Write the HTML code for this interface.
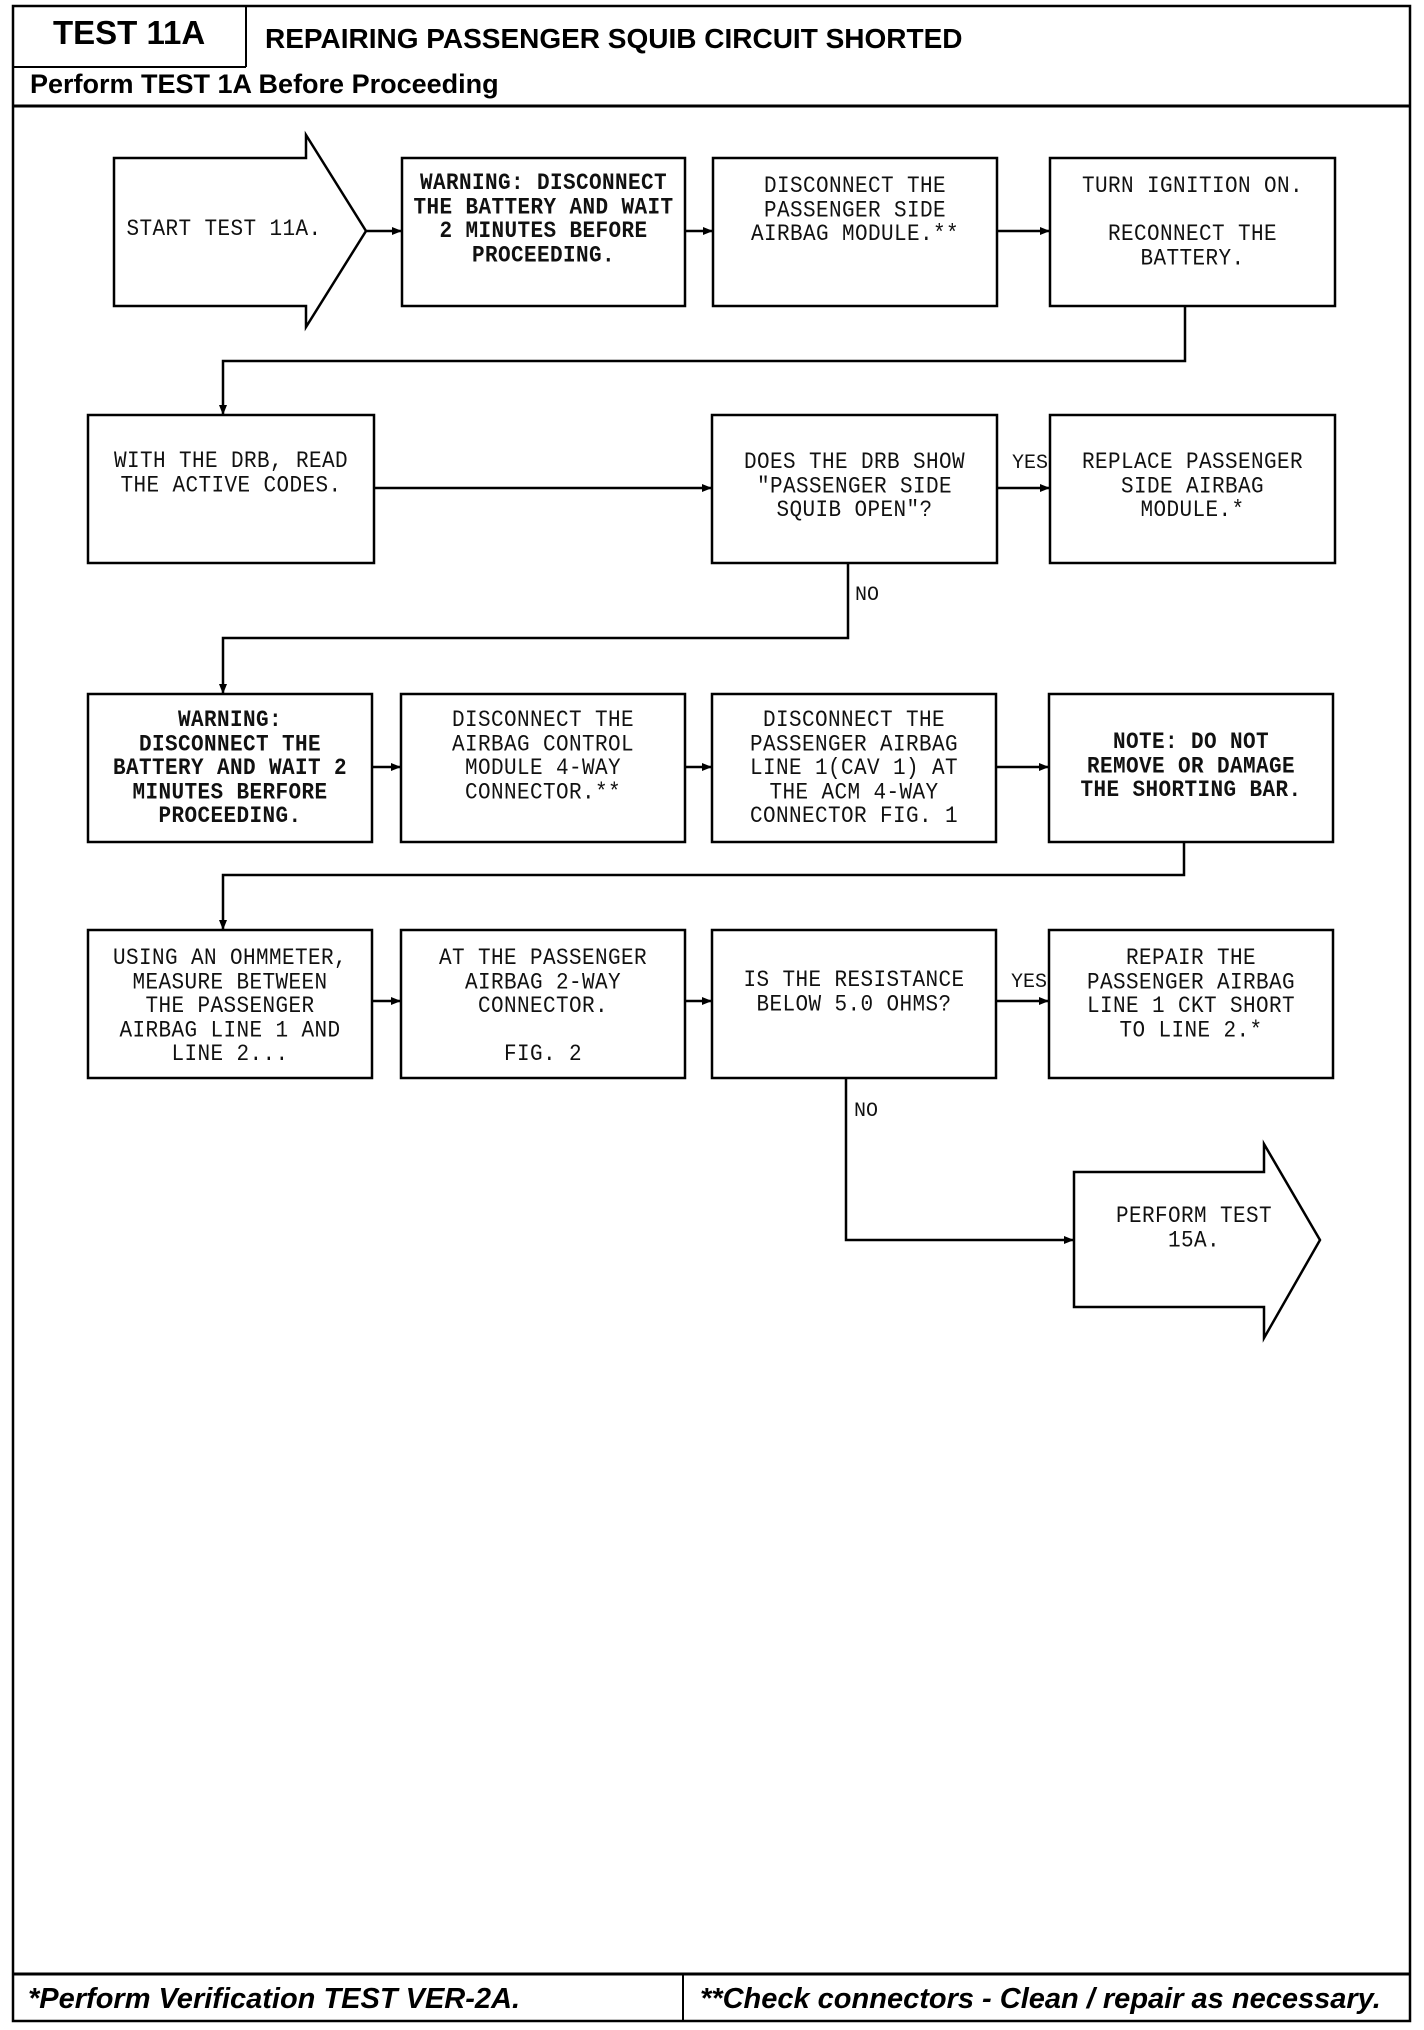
<!DOCTYPE html>
<html><head><meta charset="utf-8"><style>
body{margin:0;background:#fff;}
#pg{position:relative;width:1424px;height:2030px;overflow:hidden;background:#fff;}
.t{position:absolute;font-family:"Liberation Mono",monospace;font-size:21px;line-height:21.5px;letter-spacing:0.4px;text-align:center;color:#111;white-space:pre;transform:scaleY(1.12);transform-origin:top center;}
.b{font-weight:bold;}
.h{position:absolute;font-family:"Liberation Sans",sans-serif;font-weight:bold;color:#000;white-space:nowrap;}
.lb{position:absolute;font-family:"Liberation Mono",monospace;font-size:20px;color:#111;}
</style></head><body><div id="pg">
<svg width="1424" height="2030" style="position:absolute;left:0;top:0" fill="none" stroke="#000">
<defs><marker id="a" markerWidth="10" markerHeight="10" refX="9" refY="5" orient="auto" markerUnits="userSpaceOnUse"><path d="M0,1 L10,5 L0,9 Z" fill="#000" stroke="none"/></marker></defs>
<rect x="13" y="6" width="1397" height="2015" stroke-width="2.5"/>
<line x1="246" y1="6" x2="246" y2="67" stroke-width="2"/>
<line x1="13" y1="67" x2="246" y2="67" stroke-width="2"/>
<line x1="13" y1="106" x2="1410" y2="106" stroke-width="3"/>
<line x1="13" y1="1974" x2="1410" y2="1974" stroke-width="3"/>
<line x1="683" y1="1974" x2="683" y2="2021" stroke-width="2"/>
<g stroke-width="2.5">
<polygon points="114,158 306,158 306,135 366,231 306,327 306,306 114,306"/>
<rect x="402" y="158" width="283" height="148"/>
<rect x="713" y="158" width="284" height="148"/>
<rect x="1050" y="158" width="285" height="148"/>
<rect x="88" y="415" width="286" height="148"/>
<rect x="712" y="415" width="285" height="148"/>
<rect x="1050" y="415" width="285" height="148"/>
<rect x="88" y="694" width="284" height="148"/>
<rect x="401" y="694" width="284" height="148"/>
<rect x="712" y="694" width="284" height="148"/>
<rect x="1049" y="694" width="284" height="148"/>
<rect x="88" y="930" width="284" height="148"/>
<rect x="401" y="930" width="284" height="148"/>
<rect x="712" y="930" width="284" height="148"/>
<rect x="1049" y="930" width="284" height="148"/>
<polygon points="1074,1172 1264,1172 1264,1144 1320,1240 1264,1338 1264,1307 1074,1307"/>
</g>
<g stroke-width="2.5" marker-end="url(#a)">
<line x1="366" y1="231" x2="401" y2="231"/>
<line x1="685" y1="231" x2="712" y2="231"/>
<line x1="997" y1="231" x2="1049" y2="231"/>
<polyline points="1185,306 1185,361 223,361 223,414"/>
<line x1="374" y1="488" x2="711" y2="488"/>
<line x1="997" y1="488" x2="1049" y2="488"/>
<polyline points="848,563 848,638 223,638 223,693"/>
<line x1="372" y1="767" x2="400" y2="767"/>
<line x1="685" y1="767" x2="711" y2="767"/>
<line x1="996" y1="767" x2="1048" y2="767"/>
<polyline points="1184,842 1184,875 223,875 223,929"/>
<line x1="372" y1="1001" x2="400" y2="1001"/>
<line x1="685" y1="1001" x2="711" y2="1001"/>
<line x1="996" y1="1001" x2="1048" y2="1001"/>
<polyline points="846,1078 846,1240 1073,1240"/>
</g>
</svg>
<div class="h" style="left:53px;top:14px;font-size:33px;">TEST 11A</div>
<div class="h" style="left:265px;top:23px;font-size:28px;">REPAIRING PASSENGER SQUIB CIRCUIT SHORTED</div>
<div class="h" style="left:30px;top:69px;font-size:27px;">Perform TEST 1A Before Proceeding</div>
<div class="h" style="left:28px;top:1983px;font-size:29px;font-style:italic;">*Perform Verification TEST VER-2A.</div>
<div class="h" style="left:700px;top:1983px;font-size:29px;font-style:italic;">**Check connectors - Clean / repair as necessary.</div>

<div class="t" style="left:114px;width:220px;top:218px;">START TEST 11A.</div>
<div class="t b" style="left:402px;width:283px;top:172px;">WARNING: DISCONNECT
THE BATTERY AND WAIT
2 MINUTES BEFORE
PROCEEDING.</div>
<div class="t" style="left:713px;width:284px;top:175px;">DISCONNECT THE
PASSENGER SIDE
AIRBAG MODULE.**</div>
<div class="t" style="left:1050px;width:285px;top:175px;">TURN IGNITION ON.

RECONNECT THE
BATTERY.</div>
<div class="t" style="left:88px;width:286px;top:450px;">WITH THE DRB, READ
THE ACTIVE CODES.</div>
<div class="t" style="left:712px;width:285px;top:451px;">DOES THE DRB SHOW
"PASSENGER SIDE
SQUIB OPEN"?</div>
<div class="t" style="left:1050px;width:285px;top:451px;">REPLACE PASSENGER
SIDE AIRBAG
MODULE.*</div>
<div class="t b" style="left:88px;width:284px;top:709px;">WARNING:
DISCONNECT THE
BATTERY AND WAIT 2
MINUTES BERFORE
PROCEEDING.</div>
<div class="t" style="left:401px;width:284px;top:709px;">DISCONNECT THE
AIRBAG CONTROL
MODULE 4-WAY
CONNECTOR.**</div>
<div class="t" style="left:712px;width:284px;top:709px;">DISCONNECT THE
PASSENGER AIRBAG
LINE 1(CAV 1) AT
THE ACM 4-WAY
CONNECTOR FIG. 1</div>
<div class="t b" style="left:1049px;width:284px;top:731px;">NOTE: DO NOT
REMOVE OR DAMAGE
THE SHORTING BAR.</div>
<div class="t" style="left:88px;width:284px;top:947px;">USING AN OHMMETER,
MEASURE BETWEEN
THE PASSENGER
AIRBAG LINE 1 AND
LINE 2...</div>
<div class="t" style="left:401px;width:284px;top:947px;">AT THE PASSENGER
AIRBAG 2-WAY
CONNECTOR.

FIG. 2</div>
<div class="t" style="left:712px;width:284px;top:969px;">IS THE RESISTANCE
BELOW 5.0 OHMS?</div>
<div class="t" style="left:1049px;width:284px;top:947px;">REPAIR THE
PASSENGER AIRBAG
LINE 1 CKT SHORT
TO LINE 2.*</div>
<div class="t" style="left:1074px;width:240px;top:1205px;">PERFORM TEST
15A.</div>
<div class="lb" style="left:1012px;top:452px;">YES</div>
<div class="lb" style="left:855px;top:584px;">NO</div>
<div class="lb" style="left:1011px;top:971px;">YES</div>
<div class="lb" style="left:854px;top:1100px;">NO</div>
</div></body></html>
